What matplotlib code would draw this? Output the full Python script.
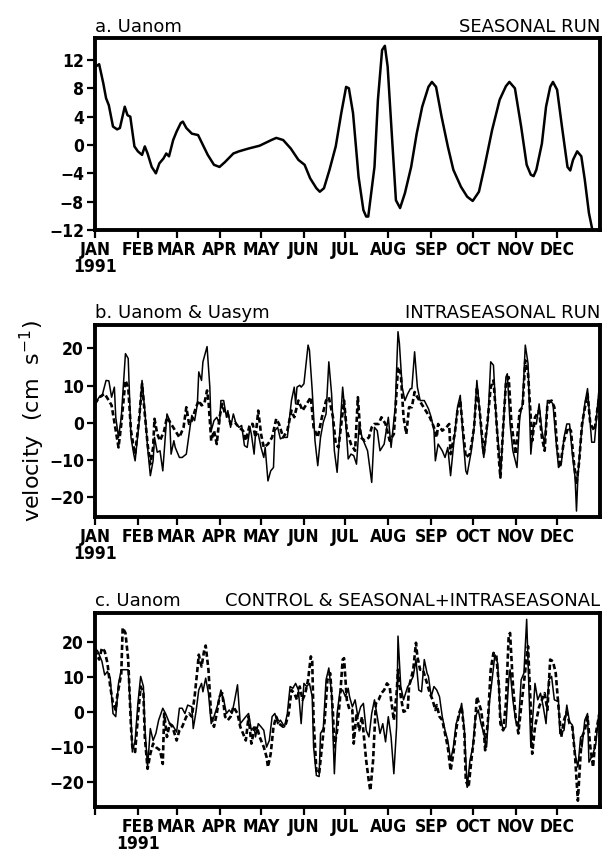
import matplotlib
matplotlib.use('Agg')
import matplotlib.pyplot as plt
from matplotlib import font_manager
from matplotlib.font_manager import FontProperties

# ---------------- data ----------------
month_days = [0, 31, 59, 90, 120, 151, 181, 212, 243, 273, 304, 334]
month_labels = ['JAN', 'FEB', 'MAR', 'APR', 'MAY', 'JUN', 'JUL', 'AUG', 'SEP', 'OCT', 'NOV', 'DEC']
year_label = '1991'

# panel a: Uanom, seasonal run
a_days = [0, 3, 6, 8, 10, 13, 16, 18, 21.5, 23.5, 25.5, 28.5, 31, 34, 36, 38, 41, 44, 46.5, 49.5,
          51.5, 53.5, 56.5, 59, 62, 63.5, 66, 70, 74.5, 77.5, 81.5, 86, 90, 94, 100, 104, 111, 119,
          127.5, 131, 136, 141.5, 147, 151.5, 155.5, 160, 162.5, 165.5, 169.5, 174, 178, 181.5,
          183.5, 186.5, 190.5, 194, 196, 197.5, 202, 204.5, 207.5, 209.5, 211.5, 214.5, 217.5,
          220.5, 224, 228.5, 232.5, 236.5, 241, 243.5, 246.5, 250.5, 255, 259, 264.5, 269, 273,
          277.5, 281.5, 287, 292.5, 297, 299.5, 303.5, 308, 312, 315, 317, 319, 323, 326, 329,
          331, 334, 337.5, 341.5, 343.5, 345.5, 348.5, 351.5, 354, 357, 359.5, 362, 365]
a_uanom = [11.0, 11.4, 8.7, 6.6, 5.6, 2.6, 2.2, 2.4, 5.4, 4.2, 4.0, -0.2, -0.9, -1.4, -0.2, -1.2,
           -3.1, -4.0, -2.6, -1.9, -1.2, -1.6, 0.7, 1.9, 3.1, 3.3, 2.4, 1.6, 1.4, 0.2, -1.4, -2.8,
           -3.1, -2.4, -1.2, -0.9, -0.5, -0.1, 0.7, 1.0, 0.7, -0.5, -2.1, -2.8, -4.7, -6.1, -6.6,
           -6.1, -3.5, -0.2, 4.5, 8.2, 8.0, 4.5, -4.5, -9.2, -10.1, -10.1, -3.1, 6.4, 13.4, 14.0,
           11.1, 1.6, -7.8, -8.9, -6.8, -3.1, 1.6, 5.4, 8.2, 8.9, 8.2, 4.0, -0.2, -3.5, -5.9, -7.3,
           -7.9, -6.6, -3.1, 2.1, 6.4, 8.3, 8.9, 8.0, 2.6, -2.8, -4.2, -4.4, -3.5, 0.2, 5.4, 8.2,
           8.9, 7.8, 2.6, -3.1, -3.6, -2.1, -0.9, -1.6, -4.9, -9.6, -12.0, -13.4, -15.0]

# panel b: Uanom (solid) and Uasym (dashed), intraseasonal run
b_days_anom = [0, 3, 5, 8, 10, 12, 14, 15, 17, 19, 22, 24, 26, 28, 29, 32, 34, 36, 38, 40, 42, 43,
               45, 47, 49, 52, 54, 55, 57, 58, 61, 63, 66, 69, 70, 72, 74, 75, 77, 78, 80, 81, 83,
               84, 86, 88, 90, 91, 93, 95, 96, 98, 100, 102, 104, 106, 108, 110, 112, 113, 115,
               116, 118, 120, 122, 123, 125, 127, 129, 130, 132, 134, 136, 139, 142, 144, 145, 146,
               148, 149, 151, 154, 155, 157, 159, 161, 163, 165, 167, 169, 171, 173, 175, 177, 179,
               181, 183, 185, 187, 189, 191, 193, 195, 197, 200, 202, 204, 206, 209, 212, 214, 216,
               217, 219, 220, 222, 224, 226, 228, 229, 231, 233, 235, 238, 241, 243, 245, 246, 248,
               251, 253, 255, 257, 259, 262, 264, 266, 268, 269, 272, 274, 276, 278, 280, 281, 284,
               286, 288, 290, 292, 293, 295, 297, 298, 300, 302, 305, 307, 309, 311, 313, 315, 317,
               319, 321, 323, 325, 327, 329, 331, 333, 335, 337, 339, 341, 343, 345, 347, 348, 349,
               351, 354, 356, 357, 359, 361, 365]
b_uanom = [5.1, 6.9, 7.1, 11.4, 11.3, 6.9, 9.6, 1.5, -3.9, 1.5, 18.6, 17.3, -3.9, -8.4, -10.2, 0.6,
           11.4, 3.3, -6.6, -14.2, -10.2, -3.9, -7.9, -7.5, -12.9, 2.4, 0.6, -8.4, -4.8, -6.6, -9.3,
           -9.3, -8.4, -0.3, 2.0, 0.6, 5.1, 13.7, 11.4, 16.4, 19.1, 20.5, 9.6, -2.1, 0.6, 1.5, -0.3,
           6.0, 6.0, 1.5, 3.3, -1.2, 2.4, -0.3, -1.2, -0.7, -6.1, -6.6, -1.2, -3.0, -8.4, -3.0,
           -3.0, -6.6, -9.3, -6.6, -15.6, -12.9, -12.0, -2.1, -1.2, -4.3, -3.9, -3.9, 6.0, 9.6, 5.1,
           9.6, 10.1, 9.6, 10.5, 20.9, 19.5, 8.7, -4.8, -11.5, -3.9, 0.2, 2.4, 16.4, 7.8, -7.5,
           -13.3, -2.1, 9.6, 1.5, -9.7, -8.4, -8.8, -11.1, -0.3, -3.9, -5.7, -7.5, -16.0, -1.2,
           -2.1, -7.5, -5.7, 1.5, -6.6, 0.6, 4.2, 24.5, 21.4, 9.6, 6.0, 7.8, 9.2, 9.2, 19.1, 9.6,
           6.0, 6.0, 3.8, 1.5, -2.1, -10.2, -5.7, -7.5, -9.3, -6.6, -14.2, -6.6, 4.2, 7.4, -3.9,
           -12.9, -13.8, -7.5, -1.2, 11.4, 3.3, -6.6, -9.3, 0.6, 16.4, 15.5, 0.6, -7.5, -14.7,
           -2.1, 12.3, 13.2, -0.3, -7.5, -12.0, 1.5, 5.1, 20.9, 15.9, -8.4, -0.3, -0.3, 5.1, -2.1,
           -5.7, 6.0, 6.0, 5.1, -3.9, -12.0, -11.1, -3.9, -0.3, -0.3, -8.4, -14.7, -23.7, -14.7,
           -4.8, 5.1, 9.2, 4.2, -5.2, -5.2, 12.3]

b_days_asym = [0, 3, 7, 10, 12, 15, 17, 19, 22, 24, 26, 28, 29, 32, 34, 36, 38, 40, 42, 43, 45, 47,
               50, 52, 55, 58, 61, 64, 66, 68, 70, 73, 75, 77, 79, 81, 82, 84, 86, 88, 90, 92, 94,
               96, 98, 101, 104, 107, 109, 112, 114, 116, 118, 120, 122, 125, 128, 131, 133, 136,
               139, 142, 144, 147, 150, 153, 156, 158, 161, 164, 167, 169, 172, 174, 176, 178, 180,
               182, 185, 188, 190, 192, 195, 198, 200, 202, 205, 207, 210, 213, 216, 217, 219, 221,
               223, 225, 227, 229, 231, 233, 236, 239, 242, 245, 247, 248, 251, 254, 256, 257, 260,
               262, 264, 266, 268, 271, 274, 276, 278, 281, 284, 286, 288, 290, 292, 293, 295, 297,
               299, 301, 304, 307, 309, 311, 313, 316, 318, 321, 323, 325, 327, 330, 332, 334, 336,
               339, 342, 344, 346, 348, 350, 352, 355, 356, 358, 361, 365]
b_uasym = [5.1, 6.9, 7.8, 6.0, 4.7, -2.1, -6.6, -0.3, 11.4, 9.6, -2.1, -6.6, -8.4, 1.5, 10.5, 2.4,
           -5.7, -11.1, -6.6, 1.1, -3.0, -4.8, -2.1, 1.5, -0.3, -2.1, -3.9, -1.2, 4.2, -0.3, 0.6,
           4.2, 6.0, 4.7, 5.1, 8.7, 6.0, -4.8, -2.1, -5.7, 1.5, 5.1, 2.4, 2.4, -0.3, 0.2, -1.2,
           -2.1, -4.8, -0.3, -0.3, -3.9, 3.3, -3.0, -6.6, -5.7, -3.9, 1.1, -0.3, -3.9, -2.1, 3.3,
           1.5, 6.0, 3.3, 5.1, 6.9, -1.2, -3.9, 1.5, 6.0, 6.9, 1.5, -5.7, -6.6, -0.3, 6.0, -2.1,
           -5.7, -7.5, 6.9, -3.9, -4.8, -3.9, -1.2, -0.3, -0.3, 1.5, -0.3, -4.8, -3.0, 2.4, 15.0,
           13.2, 1.5, -3.0, 4.2, 4.2, 8.3, 6.9, 5.1, 3.3, 1.5, -1.2, -3.9, -0.3, -2.1, -1.2, -0.3,
           -8.4, -3.0, 3.3, 6.0, -2.1, -9.3, -8.4, -1.2, 9.6, 3.3, -8.4, 1.5, 9.6, 11.4, 1.5,
           -10.2, -14.7, -1.2, 10.5, 12.3, -0.3, -8.4, 3.3, 4.2, 16.8, 13.2, -4.8, 1.5, 3.3, -3.9,
           -7.5, 5.1, 6.0, 4.2, -6.6, -12.0, -4.8, -1.2, -2.1, -10.2, -16.5, -10.2, -0.3, 6.0, 7.8,
           -0.3, -2.1, 8.7]

# panel c: Uanom CONTROL (solid) and SEASONAL+INTRASEASONAL (dashed)
c_days_ctrl = [0, 2, 5, 7, 9, 11, 13, 15, 17, 19, 21, 24, 26, 27, 29, 31, 33, 35, 36, 38, 40, 42,
               44, 46, 49, 51, 54, 56, 59, 61, 63, 65, 67, 70, 71, 73, 75, 77, 78, 80, 82, 84, 86,
               89, 91, 93, 95, 97, 99, 101, 103, 105, 107, 109, 111, 113, 115, 116, 118, 120, 122,
               124, 126, 128, 130, 132, 134, 137, 139, 141, 143, 145, 147, 149, 151, 153, 155, 157,
               158, 160, 162, 163, 165, 167, 169, 171, 173, 175, 177, 179, 181, 183, 184, 186, 188,
               190, 192, 194, 196, 198, 200, 202, 204, 206, 208, 210, 212, 214, 216, 218, 219, 221,
               223, 226, 227, 230, 232, 234, 236, 238, 240, 241, 243, 245, 247, 249, 251, 253, 255,
               257, 259, 261, 263, 265, 267, 269, 271, 273, 275, 277, 279, 281, 283, 285, 287, 289,
               291, 293, 295, 297, 299, 300, 302, 304, 306, 308, 310, 312, 313, 315, 318, 320, 322,
               324, 326, 328, 330, 332, 335, 336, 339, 341, 343, 345, 347, 349, 351, 352, 354, 356,
               357, 360, 362, 364, 365]
c_ctrl = [18.3, 17.4, 14.5, 10.6, 11.6, 9.7, -0.4, -1.3, 8.2, 12.1, 12.1, 12.1, -1.3, -11.4, -8.1,
          2.5, 10.2, 7.3, -4.2, -15.7, -4.7, -8.1, -6.1, -2.3, 1.1, -0.4, -3.3, -3.7, -5.7, 1.1,
          1.1, -0.4, 2.0, 1.5, -4.7, 0.1, 6.3, 8.2, 5.8, 9.7, 5.4, -3.3, -1.3, 2.5, 6.3, 3.5, -0.4,
          0.6, -0.4, 3.5, 7.8, -3.3, -2.3, -1.3, -0.4, -5.2, -4.2, -7.1, -3.3, -4.2, -5.2, -10.0,
          -8.1, -1.3, -0.4, -3.3, -2.3, -4.2, -0.4, 7.3, 6.8, 8.2, 6.3, -3.3, 8.2, 7.3, 8.2, 4.4,
          -10.0, -18.1, -18.4, -6.1, -4.7, 9.2, 12.6, 5.4, -17.6, -0.4, 5.8, 6.3, 4.4, 6.8, 4.4,
          1.5, 3.5, -1.3, 1.5, 2.5, -5.2, -7.1, -0.4, 3.5, -1.3, -6.1, -3.3, -8.5, -1.3, -7.1,
          -17.6, -4.2, 21.7, 7.3, 3.5, 7.3, 7.8, 10.2, 15.0, 6.3, 5.8, 15.0, 11.1, 10.2, 4.4, 7.3,
          6.3, 4.4, -1.3, -5.2, -8.1, -13.8, -10.0, -3.3, -1.3, 2.5, -5.2, -21.5, -13.8, -10.0,
          -1.3, 0.6, -3.3, -6.1, -10.0, 2.5, 9.2, 16.4, 14.0, -1.3, -5.2, -4.2, 9.2, 12.1, 3.5,
          -2.3, -4.2, 9.2, 11.1, 26.5, 14.0, -10.0, 8.2, 3.5, 5.4, 1.5, -3.3, 9.2, 10.2, 3.5, 3.0,
          -6.1, -5.2, 2.0, -2.8, -3.7, -11.9, -15.7, -7.1, -10.0, -2.3, -0.4, -14.3, -11.9, -9.0,
          -0.9, 0.6]

c_days_si = [0, 3, 5, 7, 9, 11, 13, 15, 16, 19, 20, 22, 24, 26, 27, 29, 31, 33, 35, 36, 38, 40,
             42, 44, 47, 49, 50, 52, 54, 56, 59, 61, 63, 66, 68, 70, 72, 74, 75, 77, 79, 80, 82,
             84, 86, 88, 90, 92, 94, 96, 98, 100, 103, 105, 107, 109, 111, 113, 115, 117, 119,
             122, 124, 125, 127, 129, 131, 133, 136, 138, 140, 142, 144, 146, 148, 150, 152, 154,
             156, 157, 158, 160, 162, 164, 166, 168, 170, 172, 173, 175, 177, 179, 180, 182, 184,
             186, 187, 189, 191, 193, 196, 198, 199, 201, 203, 205, 207, 209, 211, 213, 214, 216,
             218, 219, 221, 223, 226, 227, 230, 232, 233, 235, 237, 240, 242, 244, 246, 247, 249,
             251, 253, 255, 257, 259, 261, 263, 265, 267, 268, 270, 272, 274, 276, 279, 281, 282,
             284, 286, 288, 290, 292, 293, 295, 297, 299, 300, 302, 304, 306, 308, 310, 312, 313,
             315, 316, 318, 321, 323, 325, 327, 329, 331, 333, 335, 337, 339, 341, 343, 345, 347,
             349, 351, 352, 354, 356, 358, 360, 362, 365]
c_si = [17.8, 15.0, 18.3, 17.4, 14.0, 7.3, 2.5, 0.6, 4.4, 11.1, 24.1, 22.6, 15.0, -4.2, -10.0,
        -11.4, -1.3, 7.3, 5.4, -7.1, -16.2, -11.9, -9.0, -10.0, -10.9, -14.8, -0.4, -7.1, -3.3,
        -4.2, -8.1, -5.2, -4.2, -1.3, -0.4, -1.3, 4.4, 12.1, 16.4, 13.0, 17.8, 19.0, 12.1, -1.3,
        -4.2, -0.4, 4.4, 5.4, -1.3, -2.3, -1.3, 1.5, -0.4, -4.2, -6.1, -8.1, -1.3, -9.0, -5.2,
        -4.2, -7.1, -10.0, -12.8, -15.7, -11.9, -4.2, -1.3, -3.3, -4.2, -3.3, -0.4, 6.3, 5.4, 3.5,
        7.3, 3.5, 5.4, 9.2, 15.9, 14.5, -2.3, -16.7, -17.6, -10.0, -2.3, 9.2, 11.1, -0.4, -10.0,
        -5.2, 3.5, 15.0, 15.4, 3.5, 0.6, 0.6, -9.0, -0.4, -5.2, -1.3, -13.8, -20.0, -22.4, -13.8,
        2.5, 3.5, 5.4, 6.3, 8.2, 7.3, 3.5, -2.3, 5.4, 12.1, 4.4, 0.1, 0.6, 7.3, 12.1, 19.8, 15.9,
        12.1, 12.1, 8.2, 5.4, 3.5, 0.6, 2.0, -1.3, -2.3, -6.1, -10.0, -16.7, -11.9, -5.2, -0.4,
        1.5, -6.1, -19.6, -21.5, -13.8, -7.1, 4.4, 0.6, -5.2, -10.9, -2.3, 12.1, 16.9, 16.4, 7.3,
        -3.3, -5.2, 2.5, 21.7, 22.6, 8.2, -1.3, -6.1, 1.5, 8.2, 15.9, 18.8, 0.6, -11.9, -4.2, 1.5,
        3.5, 5.4, 0.6, 15.0, 14.5, 11.1, 1.5, -7.1, -2.3, 0.1, -3.3, -4.2, -12.8, -25.3, -11.9,
        -7.1, -5.2, -1.3, -10.0, -15.7, -6.1, 0.6]

a_yticks = [-12, -8, -4, 0, 4, 8, 12]
bc_yticks = [-20, -10, 0, 10, 20]

# ---------------- style ----------------


def find_narrow_bold():
    files = [f.fname for f in font_manager.fontManager.ttflist]
    for key in ('liberationsansnarrow-bold.', 'dejavusanscondensed-bold.'):
        for fn in files:
            if fn.lower().replace(' ', '').split('/')[-1].startswith(key):
                return fn
    return None


narrow = find_narrow_bold()
if narrow:
    tick_fp = FontProperties(fname=narrow, size=12.5)
else:
    tick_fp = FontProperties(family='DejaVu Sans', weight='bold', stretch='condensed', size=11.5)

W, H = 609, 852
fig = plt.figure(figsize=(W / 100, H / 100), dpi=100)


def make_axes(top, bottom, ylim, yticks, first_label, title_l, title_r):
    ax = fig.add_axes([95 / W, 1 - bottom / H, 505 / W, (bottom - top) / H])
    ax.set_xlim(0, 365)
    ax.set_ylim(*ylim)
    ax.set_yticks(yticks)
    ax.set_yticklabels([f'{v:d}'.replace('-', '\u2212') for v in yticks])
    labels = list(month_labels)
    if first_label == 0:
        labels[0] = labels[0] + '\n' + year_label
    else:
        labels[0] = ''
        labels[1] = labels[1] + '\n' + year_label
    ax.set_xticks(month_days)
    ax.set_xticklabels(labels, linespacing=0.95, va='top')
    for lab in ax.get_xticklabels() + ax.get_yticklabels():
        lab.set_fontproperties(tick_fp)
    ax.tick_params(direction='out', length=6, width=1.6, pad=2, color='black')
    for s in ax.spines.values():
        s.set_linewidth(2.8)
    h = bottom - top
    yb = 1 + 6.5 / h
    ax.text(0.0, yb, title_l, transform=ax.transAxes, ha='left', va='baseline',
            fontsize=13, family='DejaVu Sans')
    ax.text(1.0, yb, title_r, transform=ax.transAxes, ha='right', va='baseline',
            fontsize=13, family='DejaVu Sans')
    return ax


ax1 = make_axes(38, 230, (-12, 15.1), a_yticks, 0, 'a. Uanom', 'SEASONAL RUN')
ax1.plot(a_days, a_uanom, color='black', lw=1.8)

ax2 = make_axes(325, 517, (-25.3, 26.3), bc_yticks, 0, 'b. Uanom & Uasym', 'INTRASEASONAL RUN')
ax2.plot(b_days_asym, b_uasym, color='black', lw=1.9, dashes=(2.0, 1.1))
ax2.plot(b_days_anom, b_uanom, color='black', lw=1.1)

ax3 = make_axes(613, 807, (-27.1, 28.3), bc_yticks, 1, 'c. Uanom',
                'CONTROL & SEASONAL+INTRASEASONAL')
ax3.plot(c_days_si, c_si, color='black', lw=1.9, dashes=(2.0, 1.1))
ax3.plot(c_days_ctrl, c_ctrl, color='black', lw=1.1)

fig.text(32 / W, 1 - 421 / H, 'velocity  (cm  s$^{-1}$)', rotation=90, ha='center', va='center',
         fontsize=16, family='DejaVu Sans')

fig.savefig('out.png', dpi=100)
